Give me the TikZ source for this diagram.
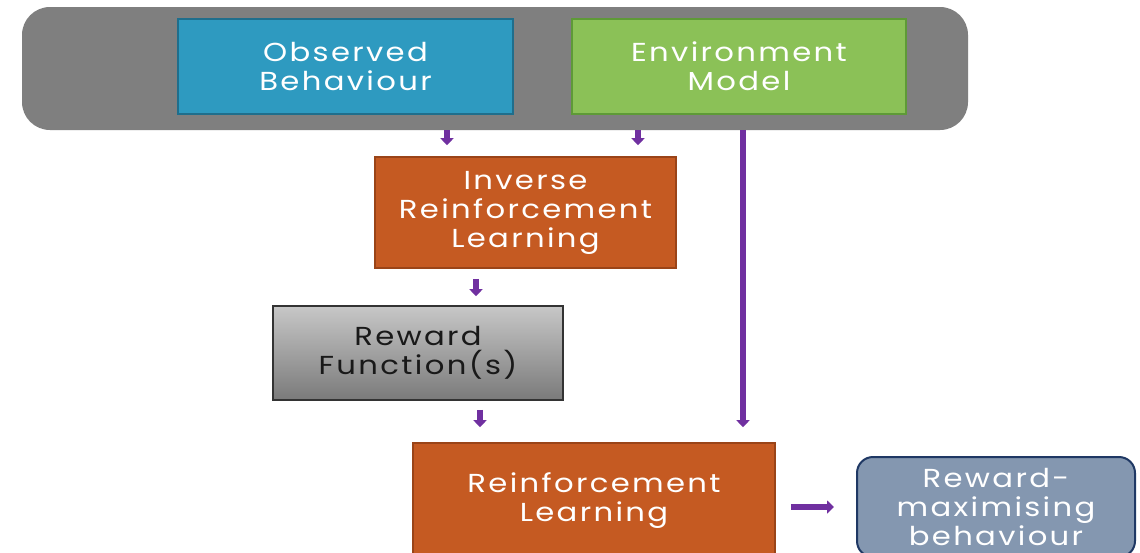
\documentclass[tikz,border=0pt]{standalone}
\usepackage{fontspec}
\setmainfont{Poppins}[LetterSpace=9,FakeStretch=1.18]
\usetikzlibrary{arrows.meta}

\definecolor{panelgray}{HTML}{7F7F7F}
\definecolor{obsblue}{HTML}{2E9AC0}
\definecolor{obsedge}{HTML}{1F6E8C}
\definecolor{envgreen}{HTML}{8BC157}
\definecolor{envedge}{HTML}{5E9A37}
\definecolor{rlorange}{HTML}{C55A22}
\definecolor{rledge}{HTML}{9A4418}
\definecolor{outslate}{HTML}{8497B0}
\definecolor{outedge}{HTML}{1F3864}
\definecolor{arrpurple}{HTML}{7030A0}

\tikzset{
    box/.style={draw, line width=0.8pt, align=center, text=white,
        font=\fontsize{13}{14.5}\selectfont, inner sep=0pt},
    obsbox/.style={box, fill=obsblue, draw=obsedge,
        minimum width=167.5pt, minimum height=47.5pt},
    envbox/.style={box, fill=envgreen, draw=envedge,
        minimum width=167pt, minimum height=47.5pt},
    learnbox/.style={box, fill=rlorange, draw=rledge},
    rewardbox/.style={box, text=black!90, draw=black!80,
        top color=black!22, bottom color=black!52,
        minimum width=145pt, minimum height=47pt},
    outbox/.style={box, fill=outslate, draw=outedge, line width=1pt,
        rounded corners=8pt, minimum width=139pt, minimum height=50pt},
    arr/.style={-{Triangle[length=3.5pt,width=6.5pt]}, line width=2.6pt,
        arrpurple}
}

\begin{document}
\begin{tikzpicture}[x=0.5pt,y=-0.5pt]
    \clip (0,0) rectangle (1140,552);
    \fill[white] (0,0) rectangle (1140,552);

    % grey band holding the two inputs
    \node[fill=panelgray, rounded corners=14pt, inner sep=0pt,
          minimum width=473pt, minimum height=61.5pt] (panel) at (495,68.5) {};
    \node[obsbox] (obs) at (345.5,66.5) {Observed\\Behaviour};
    \node[envbox] (env) at (739,66.5) {Environment\\Model};

    \node[learnbox, minimum width=150.5pt, minimum height=55.5pt]
        (irl) at (525.5,212.5) {Inverse\\Reinforcement\\Learning};
    \node[rewardbox] (rf) at (418,353) {Reward\\Function(s)};
    \node[learnbox, minimum width=181pt, minimum height=58pt]
        (rl) at (594,501) {Reinforcement\\Learning};
    \node[outbox] (out) at (996,507) {Reward-\\maximising\\behaviour};

    % short drops between the boxes
    \draw[arr] ([xshift=-39.25pt]irl.north |- panel.south) -- ([xshift=-39.25pt,yshift=5.5pt]irl.north);
    \draw[arr] ([xshift=56.25pt]irl.north |- panel.south) -- ([xshift=56.25pt,yshift=5.5pt]irl.north);
    \draw[arr, shorten <=5pt, shorten >=4.5pt]
        ([xshift=-24.75pt]irl.south) -- ([xshift=-24.75pt]irl.south |- rf.north);
    \draw[arr, shorten <=4.5pt, shorten >=7.5pt]
        ([xshift=31pt]rf.south) -- ([xshift=31pt]rf.south |- rl.north);
    % model goes straight down to the RL step
    \draw[arr, shorten >=7.5pt]
        ([xshift=2pt]env.south |- panel.south) -- ([xshift=2pt]env.south |- rl.north);
    \draw[arr, shorten <=7.5pt, shorten >=11pt] (rl.east |- out.west) -- (out.west);
\end{tikzpicture}
\end{document}
